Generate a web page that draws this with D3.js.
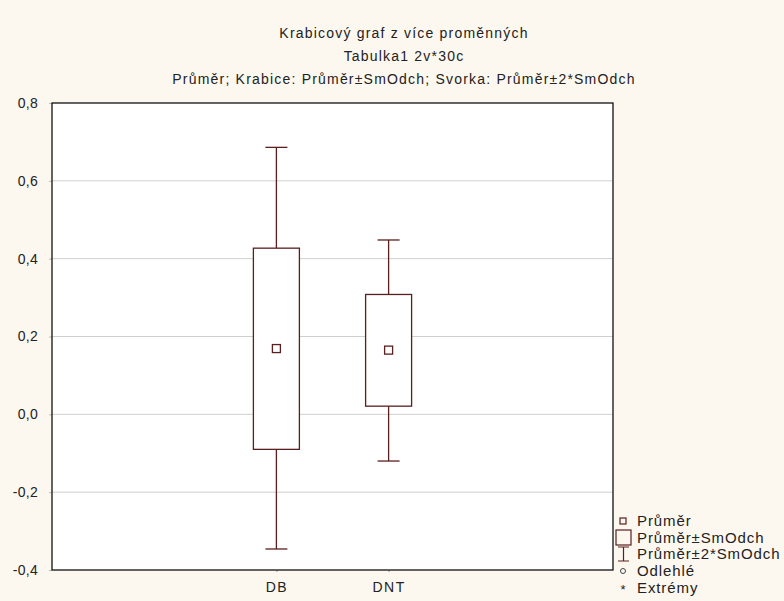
<!DOCTYPE html>
<html lang="cs">
<head>
<meta charset="utf-8">
<title>Krabicový graf</title>
<script src="https://d3js.org/d3.v7.min.js"></script>
<style>
  body { margin: 0; background: #fdf8ef; }
  text { font-family: "Liberation Sans", Arial, sans-serif; fill: #222; }
</style>
</head>
<body>
<div id="viz"></div>
<script>
// values
const categories = ["DB", "DNT"];
const means = [0.169, 0.165];
const boxHigh = [0.427, 0.308];
const boxLow = [-0.090, 0.021];
const whiskerHigh = [0.686, 0.448];
const whiskerLow = [-0.346, -0.120];
const yTicks = [-0.4, -0.2, 0.0, 0.2, 0.4, 0.6, 0.8];
const titleLines = [
  "Krabicový graf z více proměnných",
  "Tabulka1 2v*30c",
  "Průměr; Krabice: Průměr±SmOdch; Svorka: Průměr±2*SmOdch"
];
const legendLabels = ["Průměr", "Průměr±SmOdch", "Průměr±2*SmOdch", "Odlehlé", "Extrémy"];

const W = 784, H = 601;
const margin = {top: 103, right: 171, bottom: 31, left: 52};
const width = W - margin.left - margin.right;
const height = H - margin.top - margin.bottom;
const ink = "#5a1f1f";

const svg = d3.select("#viz").append("svg")
    .attr("width", W)
    .attr("height", H);

svg.append("rect").attr("width", W).attr("height", H).attr("fill", "#fdf8ef");

// titles
svg.selectAll(".title")
  .data(titleLines)
  .join("text")
    .attr("x", 404)
    .attr("y", (d, i) => 37.5 + i * 23)
    .attr("text-anchor", "middle")
    .attr("font-size", 14)
    .attr("letter-spacing", 1.2)
    .text(d => d);

const g = svg.append("g")
    .attr("transform", `translate(${margin.left},${margin.top})`);

g.append("rect")
    .attr("width", width)
    .attr("height", height)
    .attr("fill", "white");

const x = d3.scalePoint()
    .domain(categories)
    .range([0, width])
    .padding(2);

const y = d3.scaleLinear()
    .domain([-0.4, 0.8])
    .range([height, 0]);

const fmt = v => d3.format(".1f")(v).replace(".", ",").replace("−", "-");

// gridlines
g.selectAll(".grid")
  .data(yTicks.slice(1, -1))
  .join("line")
    .attr("x1", 0).attr("x2", width)
    .attr("y1", d => y(d)).attr("y2", d => y(d))
    .attr("stroke", "#cfcfcf");

// y axis
const yAxis = g.append("g")
    .call(d3.axisLeft(y).tickValues(yTicks).tickFormat(fmt).tickSize(3).tickPadding(11));
yAxis.select(".domain").remove();
yAxis.selectAll("line").attr("stroke", "#bbb");
yAxis.selectAll("text").attr("font-size", 14).attr("letter-spacing", 0.3).attr("fill", "#222");

// x axis
const xAxis = g.append("g")
    .attr("transform", `translate(0,${height})`)
    .call(d3.axisBottom(x).tickSize(2).tickPadding(10));
xAxis.select(".domain").remove();
xAxis.selectAll("line").attr("stroke", "#999");
xAxis.selectAll("text").attr("font-size", 14).attr("letter-spacing", 1.5).attr("fill", "#222");

// frame
g.append("rect")
    .attr("width", width)
    .attr("height", height)
    .attr("fill", "none")
    .attr("stroke", "#111")
    .attr("stroke-width", 1.3);

const boxW = 46, capW = 22, markS = 8;
const idx = d3.range(categories.length);

// whiskers
g.selectAll(".whisker")
  .data(idx)
  .join("line")
    .attr("x1", i => x(categories[i])).attr("x2", i => x(categories[i]))
    .attr("y1", i => y(whiskerLow[i])).attr("y2", i => y(whiskerHigh[i]))
    .attr("stroke", ink).attr("stroke-width", 1.3);

g.selectAll(".capHi")
  .data(idx)
  .join("line")
    .attr("x1", i => x(categories[i]) - capW / 2).attr("x2", i => x(categories[i]) + capW / 2)
    .attr("y1", i => y(whiskerHigh[i])).attr("y2", i => y(whiskerHigh[i]))
    .attr("stroke", ink).attr("stroke-width", 1.3);

g.selectAll(".capLo")
  .data(idx)
  .join("line")
    .attr("x1", i => x(categories[i]) - capW / 2).attr("x2", i => x(categories[i]) + capW / 2)
    .attr("y1", i => y(whiskerLow[i])).attr("y2", i => y(whiskerLow[i]))
    .attr("stroke", ink).attr("stroke-width", 1.3);

// boxes
g.selectAll(".box")
  .data(idx)
  .join("rect")
    .attr("x", i => x(categories[i]) - boxW / 2)
    .attr("y", i => y(boxHigh[i]))
    .attr("width", boxW)
    .attr("height", i => y(boxLow[i]) - y(boxHigh[i]))
    .attr("fill", "white")
    .attr("stroke", ink).attr("stroke-width", 1.3);

// means
g.selectAll(".mean")
  .data(idx)
  .join("rect")
    .attr("x", i => x(categories[i]) - markS / 2)
    .attr("y", i => y(means[i]) - markS / 2)
    .attr("width", markS).attr("height", markS)
    .attr("fill", "white")
    .attr("stroke", ink).attr("stroke-width", 1.3);

// legend
const lg = svg.append("g").attr("transform", "translate(615,0)");
const rowY = [521, 538, 554, 571, 588];

lg.selectAll("text")
  .data(legendLabels)
  .join("text")
    .attr("x", 22)
    .attr("y", (d, i) => rowY[i] + 5)
    .attr("font-size", 15)
    .attr("letter-spacing", 0.9)
    .text(d => d);

lg.append("rect").attr("x", 5).attr("y", rowY[0] - 3).attr("width", 6).attr("height", 6)
    .attr("fill", "none").attr("stroke", ink).attr("stroke-width", 1.2);
lg.append("rect").attr("x", 1).attr("y", rowY[1] - 8).attr("width", 15).attr("height", 15)
    .attr("fill", "none").attr("stroke", ink).attr("stroke-width", 1.2);
lg.append("path")
    .attr("d", `M3,${rowY[2] - 7}H14M8.5,${rowY[2] - 7}V${rowY[2] + 7}M3,${rowY[2] + 7}H14`)
    .attr("fill", "none").attr("stroke", ink).attr("stroke-width", 1.2);
lg.append("circle").attr("cx", 8).attr("cy", rowY[3]).attr("r", 2.5)
    .attr("fill", "none").attr("stroke", "#444").attr("stroke-width", 1);
lg.append("text").attr("x", 8).attr("y", rowY[4] + 6).attr("text-anchor", "middle")
    .attr("font-size", 13).text("*");
</script>
</body>
</html>
